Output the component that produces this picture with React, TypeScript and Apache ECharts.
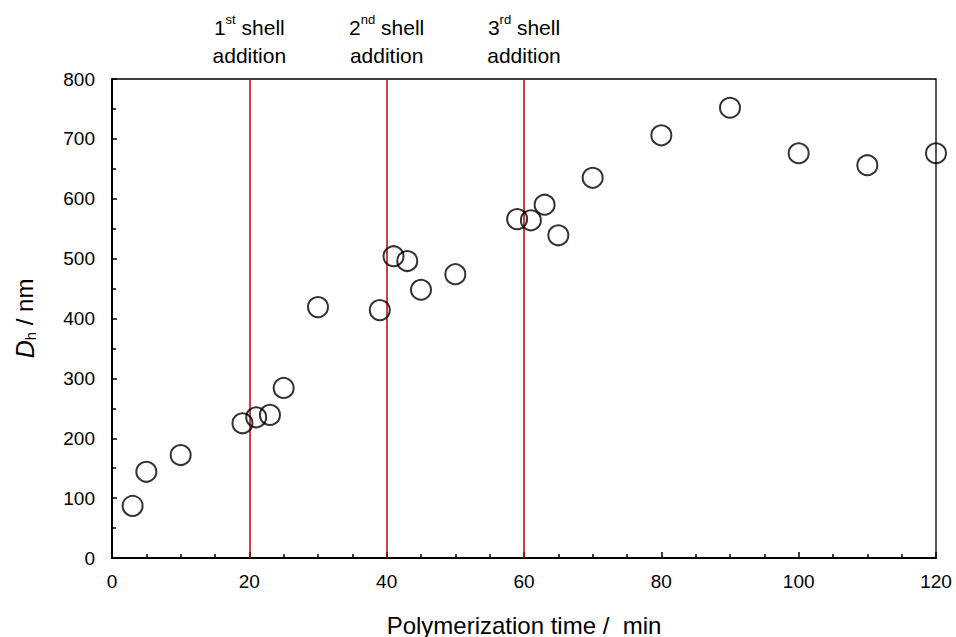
import React, { useEffect, useRef } from "react";
import * as echarts from "echarts";

const timeMin = [3, 5, 10, 19, 21, 23, 25, 30, 39, 41, 43, 45, 50, 59, 61, 63, 65, 70, 80, 90, 100, 110, 120];
const dhNm = [87, 144, 172, 225, 235, 239, 284, 419, 414, 504, 496, 448, 474, 566, 564, 590, 539, 635, 706, 752, 676, 656, 676];
const shellTimes = [20, 40, 60];
const shellOrdinals = [["1", "st"], ["2", "nd"], ["3", "rd"]];

const FONT = "Liberation Sans, Arial, sans-serif";

export default function App() {
  const ref = useRef<HTMLDivElement>(null);
  useEffect(() => {
    if (!ref.current) return;
    const chart = echarts.init(ref.current, undefined, { renderer: "svg" });
    const points = timeMin.map((t, i) => [t, dhNm[i]]);
    chart.setOption({
      animation: false,
      textStyle: { fontFamily: FONT },
      grid: {
        left: 112,
        top: 79,
        width: 824,
        height: 479,
        show: true,
        borderColor: "#000",
        borderWidth: 1.3,
        backgroundColor: "transparent",
        containLabel: false,
        outerBoundsMode: "none",
      },
      xAxis: {
        type: "value",
        min: 0,
        max: 120,
        interval: 20,
        name: "Polymerization time /  min",
        nameLocation: "middle",
        nameGap: 55,
        nameTextStyle: { fontSize: 24, color: "#000", fontFamily: FONT },
        axisLine: { lineStyle: { color: "#000", width: 2 } },
        axisTick: { inside: true, length: 6, lineStyle: { color: "#000", width: 1.5 } },
        minorTick: { show: true, splitNumber: 4, length: 4, lineStyle: { color: "#000", width: 1.5 } },
        axisLabel: { fontSize: 19, color: "#000", margin: 14, fontFamily: FONT },
        splitLine: { show: false },
      },
      yAxis: {
        type: "value",
        min: 0,
        max: 800,
        interval: 100,
        name: "{i|D}{sub|h}{n| / nm}",
        nameLocation: "middle",
        nameRotate: 90,
        nameGap: 74,
        nameTextStyle: {
          fontSize: 24,
          color: "#000",
          fontFamily: FONT,
          rich: {
            i: { fontSize: 25, fontStyle: "italic", fontFamily: FONT, color: "#000" },
            sub: { fontSize: 15, fontFamily: FONT, color: "#000", verticalAlign: "bottom", padding: [12, 0, 0, 0] },
            n: { fontSize: 24, fontFamily: FONT, color: "#000" },
          },
        },
        axisLine: { lineStyle: { color: "#000", width: 2 } },
        axisTick: { inside: true, length: 5, lineStyle: { color: "#000", width: 1.5 } },
        minorTick: { show: true, splitNumber: 2, length: 4, lineStyle: { color: "#000", width: 1.5 } },
        axisLabel: { fontSize: 19, color: "#000", margin: 17, fontFamily: FONT },
        splitLine: { show: false },
      },
      series: [
        {
          type: "scatter",
          data: points,
          symbol: "circle",
          symbolSize: 20,
          itemStyle: { color: "transparent", borderColor: "#000", borderWidth: 2 },
          z: 5,
          markLine: {
            silent: true,
            symbol: "none",
            animation: false,
            lineStyle: { color: "#c00000", width: 1.5, type: "solid" },
            data: shellTimes.map((t, i) => ({
              xAxis: t,
              label: {
                show: true,
                position: "end",
                distance: 10,
                formatter: `{n|${shellOrdinals[i][0]}}{sup|${shellOrdinals[i][1]}}{n| shell}\n{n|addition}`,
                rich: {
                  n: { fontSize: 21, color: "#000", fontFamily: FONT, lineHeight: 28 },
                  sup: { fontSize: 13, color: "#000", fontFamily: FONT, verticalAlign: "top", padding: [0, 0, 8, 0], lineHeight: 28 },
                },
              },
            })),
          },
        },
      ],
    });
    return () => chart.dispose();
  }, []);
  return (
    <div
      ref={ref}
      style={{ position: "absolute", left: 0, top: 0, width: 956, height: 637 }}
    />
  );
}
